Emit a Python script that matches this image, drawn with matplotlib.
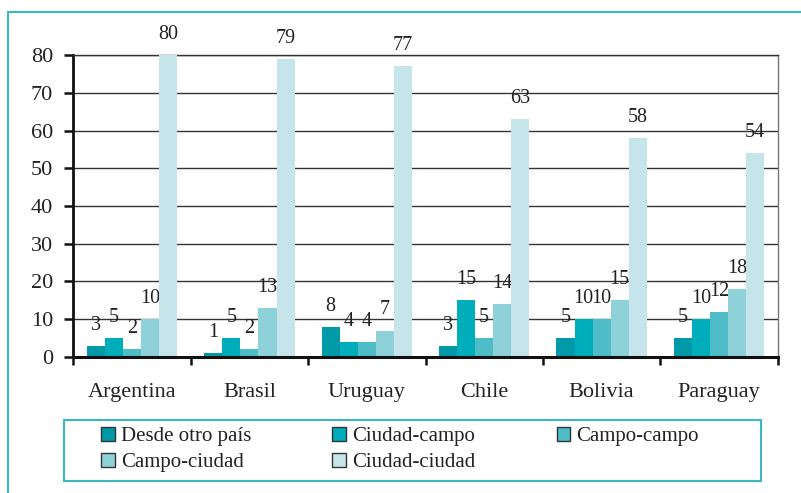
import numpy as np
import matplotlib.pyplot as plt
from matplotlib.patches import Rectangle, Patch

# categories and series
countries = ["Argentina", "Brasil", "Uruguay", "Chile", "Bolivia", "Paraguay"]
series_names = ["Desde otro país", "Ciudad-campo", "Campo-campo", "Campo-ciudad", "Ciudad-ciudad"]
desde_otro_pais = [3, 1, 8, 3, 5, 5]
ciudad_campo = [5, 5, 4, 15, 10, 10]
campo_campo = [2, 2, 4, 5, 10, 12]
campo_ciudad = [10, 13, 7, 14, 15, 18]
ciudad_ciudad = [80, 79, 77, 63, 58, 54]
y_ticks = [0, 10, 20, 30, 40, 50, 60, 70, 80]

colors = ["#0099a8", "#00adba", "#4fbdc8", "#8ed1d9", "#c5e5ea"]
frame_color = "#3db8c1"
text_color = "#222222"

plt.rcParams['font.family'] = ['Liberation Serif', 'DejaVu Serif']

fig = plt.figure(figsize=(8.01, 4.93), dpi=100)
ax = fig.add_axes([0.0915, 0.2759, 0.8795, 0.6125])

all_series = [desde_otro_pais, ciudad_campo, campo_campo, campo_ciudad, ciudad_ciudad]
x = np.arange(len(countries))
w = 0.154
for i, (vals, col) in enumerate(zip(all_series, colors)):
    bars = ax.bar(x + (i - 2) * w, vals, width=w, color=col, zorder=3)
    ax.bar_label(bars, labels=[str(v) for v in vals], padding=8,
                 fontsize=14.5, color=text_color)

ax.set_xlim(-0.5, len(countries) - 0.5)
ax.set_ylim(0, 80)
ax.set_yticks(y_ticks)
ax.grid(axis='y', color='#333333', linewidth=1.0, zorder=0)
ax.set_axisbelow(True)

ax.set_xticks(x)
ax.set_xticklabels(countries, fontsize=16, color=text_color)
ax.tick_params(axis='x', length=0, pad=19)
ax.set_xticks(np.arange(len(countries) + 1) - 0.5, minor=True)
ax.tick_params(axis='x', which='minor', length=6, width=1.8, direction='out', color='#111111')
ax.tick_params(axis='y', length=6.5, width=1.8, pad=8, labelsize=16,
               labelcolor=text_color, color='#111111')

ax.spines['left'].set_linewidth(2.0)
ax.spines['left'].set_color('#111111')
ax.spines['bottom'].set_linewidth(2.2)
ax.spines['bottom'].set_color('#111111')
ax.spines['bottom'].set_zorder(4)
ax.spines['top'].set_color('#333333')
ax.spines['top'].set_linewidth(1.0)
ax.spines['right'].set_color('#777777')
ax.spines['right'].set_linewidth(1.0)

# legend ordered so it reads row by row in 3 columns
order = [0, 3, 1, 4, 2]
handles = [Patch(facecolor=colors[k], edgecolor='#333333', linewidth=1.0) for k in order]
labels = [series_names[k] for k in order]
leg = fig.legend(handles, labels, ncol=3, loc='upper left',
                 bbox_to_anchor=(101 / 801, 1 - 427 / 493),
                 bbox_transform=fig.transFigure,
                 fontsize=15, frameon=False, borderaxespad=0, borderpad=0,
                 handlelength=0.65, handleheight=0.65, handletextpad=0.3,
                 labelspacing=0.33, columnspacing=3.9)
for t in leg.get_texts():
    t.set_color(text_color)

# legend box
fig.add_artist(Rectangle((64 / 801, 1 - 481 / 493), 697 / 801, 61 / 493,
                         transform=fig.transFigure, fill=False,
                         edgecolor=frame_color, linewidth=1.5))

# outer teal frame (open on the right and bottom)
fig.add_artist(Rectangle((8 / 801, -0.2), 1.2, 0.2 + 1 - 11.7 / 493,
                         transform=fig.transFigure, fill=False,
                         edgecolor=frame_color, linewidth=1.5))

fig.savefig("out.png", dpi=100)
